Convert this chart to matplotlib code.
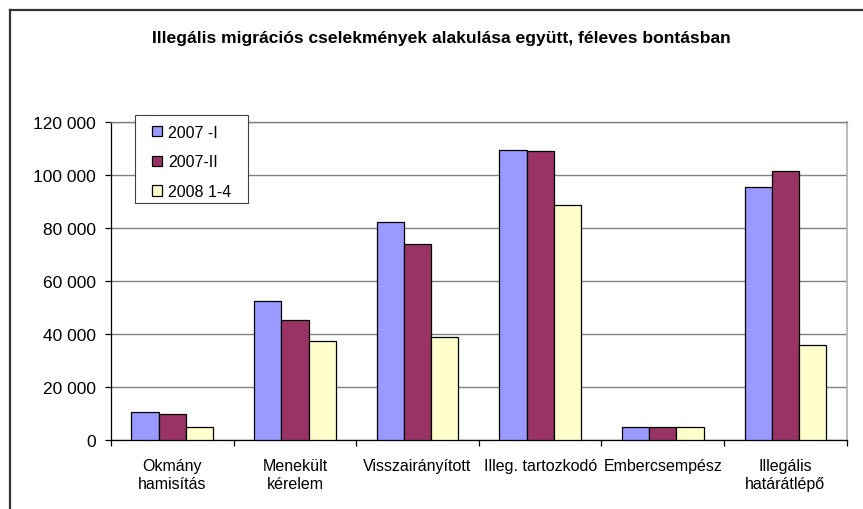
import matplotlib
matplotlib.use("Agg")
import matplotlib.pyplot as plt
from matplotlib.lines import Line2D
from matplotlib.patches import Rectangle
import numpy as np

categories = ["Okmány\nhamisítás", "Menekült\nkérelem", "Visszairányított",
              "Illeg. tartozkodó", "Embercsempész", "Illegális\nhatárátlépő"]
series_names = ["2007 -I", "2007-II", "2008 1-4"]
s2007_1 = [10600, 52400, 82400, 109600, 4800, 95400]
s2007_2 = [9600, 45400, 74100, 109300, 4800, 101500]
s2008 = [4800, 37400, 38700, 88700, 4800, 35700]
yticks = [0, 20000, 40000, 60000, 80000, 100000, 120000]
ytick_labels = ["0", "20 000", "40 000", "60 000", "80 000", "100 000", "120 000"]
title = "Illegális migrációs cselekmények alakulása együtt, féleves bontásban"

colors = ["#9999FF", "#993366", "#FFFFCC"]

plt.rcParams['font.family'] = ['Liberation Sans', 'DejaVu Sans']
W, H = 863, 510
fig = plt.figure(figsize=(W / 100, H / 100), dpi=100)
ax_l, ax_r, ax_t, ax_b = 111, 846.7, 123.3, 440.7
ax = fig.add_axes([ax_l / W, 1 - ax_b / H, (ax_r - ax_l) / W, (ax_b - ax_t) / H])

x = np.arange(len(categories))
w = 1 / 4.5
for i, (vals, name) in enumerate(zip([s2007_1, s2007_2, s2008], series_names)):
    ax.bar(x + (i - 1) * w, vals, width=w, color=colors[i], edgecolor="black",
           linewidth=0.9, label=name, zorder=3)

ax.set_xlim(-0.5, len(categories) - 0.5)
ax.set_ylim(0, 120000)
ax.set_yticks(yticks)
ax.set_yticklabels(ytick_labels, fontsize=12.5)
ax.yaxis.grid(True, color="#808080", linewidth=1.0, zorder=0)
ax.set_axisbelow(True)

ax.set_xticks(np.arange(-0.5, len(categories), 1.0))
ax.set_xticklabels([])
ax.set_xticks(x, minor=True)
ax.set_xticklabels(categories, minor=True, fontsize=11.5, linespacing=1.3)
ax.tick_params(axis="x", which="minor", length=0, pad=13)
ax.tick_params(axis="x", which="major", length=4, width=0.9, direction="out", color="black")
ax.tick_params(axis="y", length=4, width=0.9, direction="out", color="black", pad=7)

for side in ["left", "bottom"]:
    ax.spines[side].set_color("black")
    ax.spines[side].set_linewidth(0.9)
ax.spines["top"].set_color("#808080")
ax.spines["top"].set_linewidth(1.0)
ax.spines["right"].set_color("#B0B0B0")
ax.spines["right"].set_linewidth(1.2)

# legend frame (drawn separately to match padding)
def px2ax(px, py):
    return (px - ax_l) / (ax_r - ax_l), (ax_b - py) / (ax_b - ax_t)

lx0, ly0 = px2ax(135, 203.5)
lx1, ly1 = px2ax(248, 116)
frame = Rectangle((lx0, ly0), lx1 - lx0, ly1 - ly0, transform=ax.transAxes,
                  facecolor="white", edgecolor="#404040", linewidth=0.8,
                  zorder=4, clip_on=False)
ax.add_patch(frame)

lax, lay = px2ax(147, 121)
leg = ax.legend(loc="upper left", bbox_to_anchor=(lax, lay),
                fontsize=11.5, frameon=False, handlelength=0.62,
                handleheight=0.62, handletextpad=0.4, labelspacing=0.92,
                borderpad=0.3, borderaxespad=0)
leg.set_zorder(5)

fig.text(441 / W, 1 - 43.3 / H, title, ha="center", va="baseline",
         fontsize=12.6, fontweight="bold")

# outer chart border (extends beyond right/bottom)
fig.add_artist(Line2D([9.5 / W, 9.5 / W], [0, 1 - 10.5 / H], color="#333333", linewidth=1.6))
fig.add_artist(Line2D([9.5 / W, 1], [1 - 10.5 / H, 1 - 10.5 / H], color="#333333", linewidth=1.6))

fig.savefig("out.png", dpi=100)
